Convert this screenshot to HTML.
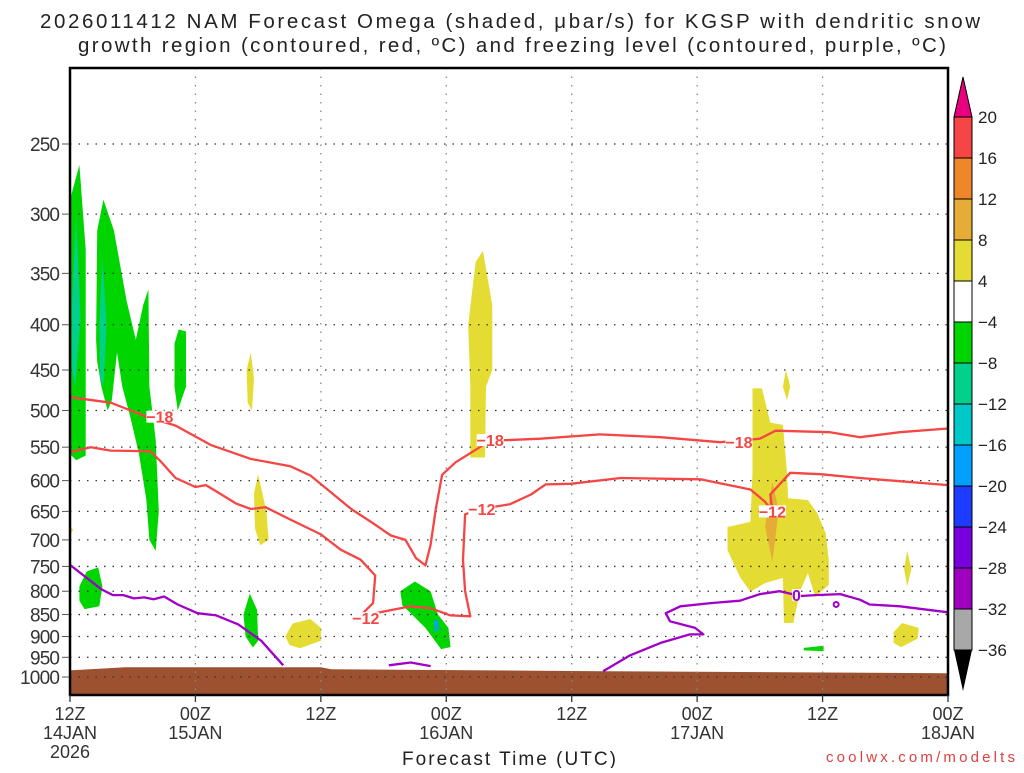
<!DOCTYPE html>
<html><head><meta charset="utf-8"><style>
body{margin:0;background:#fff;}
svg text{font-family:"Liberation Sans",sans-serif;}
</style></head><body>
<svg id="chart" width="1024" height="768" viewBox="0 0 1024 768">
<g id="title" font-size="20.5" fill="#222">
<text x="40" y="28" textLength="940" lengthAdjust="spacing">2026011412 NAM Forecast Omega (shaded, μbar/s) for KGSP with dendritic snow</text>
<text x="78" y="52" textLength="868" lengthAdjust="spacing">growth region (contoured, red, ºC) and freezing level (contoured, purple, ºC)</text>
</g>
<g id="shades"></g>
<g id="grid"></g>
<g id="lines"></g>
<g id="axes"></g>
<g id="cbar"></g>
<text x="402" y="765" font-size="19" fill="#222" textLength="214" lengthAdjust="spacing">Forecast Time (UTC)</text>
<text x="826" y="762" font-size="15" fill="#e04040" textLength="189" lengthAdjust="spacing">coolwx.com/modelts</text>
</svg>
<script>
// axis data
const pTicks=[250,300,350,400,450,500,550,600,650,700,750,800,850,900,950,1000];
const hTicks=[0,12,24,36,48,60,72,84];
const hLabels=[["12Z","14JAN","2026"],["00Z","15JAN"],["12Z"],["00Z","16JAN"],["12Z"],["00Z","17JAN"],["12Z"],["00Z","18JAN"]];
const cbLevels=[20,16,12,8,4,-4,-8,-12,-16,-20,-24,-28,-32,-36];
const cbColors=["#f54545","#f0862a","#e5ad35","#e5dc33","#ffffff","#00d500","#00d08a","#00c8c8","#00a0ff","#1e3cff","#7800dc","#a000c0","#a8a8a8"];
// contour data (hour, hPa)
const m18=[[0,483],[3.9,490],[7.3,508],[10.1,520],[13.5,547],[17.3,567],[21.1,578],[23,592],[25,619],[26.9,646],[28.8,668],[30.7,692],[32.1,700],[33.1,734],[34,748],[34.5,709],[35,646],[35.6,591],[36.9,572],[40.2,541],[45,538],[50.7,532],[56.5,536],[62.2,543],[66,538],[67.5,527],[72.7,529],[75.6,536],[79.4,529],[84,524]];
const m12a=[[0,557],[2,550],[3.9,555],[7.7,556],[8.7,571],[10.1,596],[12,610],[13,607],[14,617],[15.9,637],[17.3,646],[18.7,643],[21.1,664],[24,690],[25.9,718],[27.8,737],[29.2,768],[29,825],[27.8,852]];
const m12b=[[29.2,847],[32.6,832],[34.5,836],[36.4,852],[38.3,854],[37.8,800],[37.6,737],[37.8,655],[39.3,646],[42.1,638],[44.1,622],[45.5,606],[47.9,605],[52.7,596],[60.3,598],[65.1,614],[66.5,634],[67.2,650],[67,622],[68.9,588],[71.8,590],[75.6,596],[84,607]];
const frz1=[[0,747],[3,796],[4.1,808],[5.1,808],[6.1,815],[7.1,813],[8,817],[9,811],[10.3,828],[12.2,847],[14,852],[16.1,872],[18.3,910],[20.4,970]];
const frz2=[[30.5,970],[32.6,963],[34.5,972]];
const frz3=[[51,985],[53.6,945],[56.5,915],[59.3,895],[60.6,895],[59.8,880],[57.4,865],[57,847],[58.4,832],[61.3,825],[64.1,820],[66,806],[67.9,800],[69.9,810],[71.3,808],[73.7,806],[75.6,818],[76.5,828],[79.4,832],[84,845]];
// shaded regions (hour, hPa)
const green=[
[[0,289],[0.9,264],[1.5,329],[1.5,562],[0.6,569],[0,560]],
[[2.5,416],[2.6,313],[3.2,289],[4.2,313],[5.4,375],[6.3,416],[7.0,380],[7.5,365],[7.6,470],[8.2,540],[8.5,650],[8.2,720],[7.6,700],[7.3,630],[6.6,560],[5.8,510],[5,470],[4.5,430],[4,487],[3.6,500],[3,470],[2.6,440]],
[[10,420],[10.4,405],[11.1,407],[11.1,470],[10.3,500],[10,470]],
[[0.9,790],[1.6,760],[2.7,752],[3.1,790],[2.8,832],[1.4,838],[0.9,820]],
[[16.6,850],[17.2,805],[17.9,840],[18,910],[17.5,926],[16.8,900]],
[[31.6,800],[33,780],[34.5,800],[35.2,850],[36.2,880],[36.4,925],[35.5,930],[34,880],[32.5,845],[31.8,830]],
[[70.2,927],[72.1,922],[72.1,935],[70.2,933]]];
const teal=[[[0.2,375],[0.6,300],[1,395],[0.5,470],[0.2,450]],[[2.8,400],[3.1,335],[3.5,400],[3.2,470],[2.9,460]]];
const cyan=[[[34.8,865],[35.2,860],[35.3,885],[34.9,890]]];
const yellow=[
[[16.9,450],[17.3,430],[17.6,460],[17.4,500],[17,490]],
[[17.6,620],[18,590],[18.8,650],[19,700],[18.2,710],[17.7,680]],
[[20.6,900],[21.3,870],[23,860],[24,880],[24,910],[22,928],[21,920]],
[[38.1,400],[38.8,340],[39.5,330],[40.4,380],[40.4,450],[39.8,470],[39.7,565],[38.3,565],[38.3,470]],
[[65.3,472],[66.2,472],[67,516],[68.2,519],[68.6,588],[68.7,628],[70.6,631],[71.5,653],[72.3,688],[72.6,738],[72.6,787],[71.3,812],[70.6,763],[69.9,797],[69.6,825],[69.2,869],[68.3,869],[68.2,773],[66.5,783],[65.1,801],[64.1,771],[62.9,719],[62.9,677],[65.1,668],[65.3,587]],
[[68.2,470],[68.5,450],[68.9,470],[68.6,487]],
[[79.8,755],[80.1,720],[80.5,755],[80.1,790]],
[[78.8,890],[79.6,869],[81.2,880],[81.1,905],[79.5,925],[78.8,915]],
[[83.8,900],[84,890],[84,915]],
[[0,675],[0.3,682],[0,692]]];
const orange=[[[67.2,602],[67.8,648],[67.2,741],[66.5,677]]];
const ground=[[0,1048],[0,983],[5.3,975],[24,975],[25,980],[51,985],[84,990],[84,1048]];
const labels18=[[8.6,508],[40.2,540],[64,543]];
const labels12=[[28.3,858],[39.4,646],[67.2,650]];
const labels0=[[69.5,808]];

const X0=70,X1=948,Y0=68,Y1=695;
const x=h=>X0+h*(X1-X0)/84;
const y=p=>144+384.5*Math.log(p/250);
const NS="http://www.w3.org/2000/svg";
function mk(tag,attrs,parent){const e=document.createElementNS(NS,tag);for(const k in attrs)e.setAttribute(k,attrs[k]);parent.appendChild(e);return e;}
const pts=a=>a.map(d=>x(d[0]).toFixed(1)+","+y(d[1]).toFixed(1)).join(" ");
const shades=document.getElementById('shades');
function poly(list,color,name){list.forEach(a=>{const e=mk('polygon',{points:pts(a),fill:color},shades);

});}
poly(green,"#00d500","omega-green-region");
poly(teal,"#00d08a","omega-teal-region");
poly(cyan,"#00a8e0","omega-cyan-region");
poly(yellow,"#e5dc33","omega-yellow-region");
poly(orange,"#e5ad35","omega-orange-region");
const gp=mk('polygon',{points:pts(ground),fill:"#9c5230"},shades);


// grid
const grid=document.getElementById('grid');
pTicks.forEach(p=>{const l=mk('line',{x1:X0,x2:X1,y1:y(p),y2:y(p),stroke:"#333","stroke-width":1.3,"stroke-dasharray":"1.5,7"},grid);

});
hTicks.slice(1,-1).forEach(h=>{const l=mk('line',{x1:x(h),x2:x(h),y1:Y0,y2:Y1,stroke:"#888","stroke-width":1.3,"stroke-dasharray":"1.5,7"},grid);

});
// lines
const lines=document.getElementById('lines');
function pl(a,color,name){const e=mk('polyline',{points:pts(a),fill:"none",stroke:color,"stroke-width":2.3,"stroke-linejoin":"round"},lines);

}
pl(m18,"#f54545","contour-minus18");pl(m12a,"#f54545","contour-minus12");pl(m12b,"#f54545","contour-minus12");
pl(frz1,"#a000c8","freezing-line");pl(frz2,"#a000c8","freezing-line");pl(frz3,"#a000c8","freezing-line");
const pb=mk('circle',{cx:x(73.3),cy:y(828),r:2.5,fill:"none",stroke:"#a000c8","stroke-width":2},lines);


function lab(list,txt,color,name){list.forEach(d=>{const w=txt.length*9;
mk('rect',{x:x(d[0])-w/2,y:y(d[1])-6,width:w,height:12,fill:"#fff"},lines);
const t=mk('text',{x:x(d[0]),y:y(d[1])+6,"font-size":16,"font-weight":"bold",fill:color,"text-anchor":"middle"},lines);t.textContent=txt;

});}
lab(labels18,"−18","#f54545","contour-label-18");lab(labels12,"−12","#f54545","contour-label-12");lab(labels0,"0","#a000c8","contour-label-0");
// axes
const ax=document.getElementById('axes');
const fr=mk('rect',{x:X0,y:Y0,width:X1-X0,height:Y1-Y0,fill:"none",stroke:"#000","stroke-width":2.5},ax);


pTicks.forEach(p=>{const s=String(p);const t=mk('text',{x:60-s.length*10,y:y(p)+7,"font-size":19,fill:"#333",textLength:s.length*10,lengthAdjust:"spacing"},ax);t.textContent=s;


mk('line',{x1:62,x2:69,y1:y(p),y2:y(p),stroke:"#555","stroke-width":1},ax);});
hTicks.forEach((h,i)=>{mk('line',{x1:x(h),x2:x(h),y1:Y1,y2:Y1+7,stroke:"#333","stroke-width":1.3},ax);
hLabels[i].forEach((s,j)=>{const t=mk('text',{x:x(h),y:720+j*19,"font-size":18,fill:"#333","text-anchor":"middle"},ax);t.textContent=s;

});});
// colorbar
const cb=document.getElementById('cbar');
const cy=i=>117+i*(650-117)/13;
cbColors.forEach((c,i)=>{const r=mk('rect',{x:954,y:cy(i),width:18,height:cy(i+1)-cy(i),fill:c,stroke:"#000","stroke-width":1},cb);

});
const tu=mk('polygon',{points:"954,117 972,117 963,77",fill:"#e8007e",stroke:"#000","stroke-width":1},cb);


const td=mk('polygon',{points:"954,650 972,650 963,691",fill:"#000"},cb);


cbLevels.forEach((v,i)=>{const t=mk('text',{x:978,y:cy(i)+6,"font-size":17,fill:"#222"},cb);t.textContent=v<0?"−"+(-v):v;

});
</script>
</body></html>
